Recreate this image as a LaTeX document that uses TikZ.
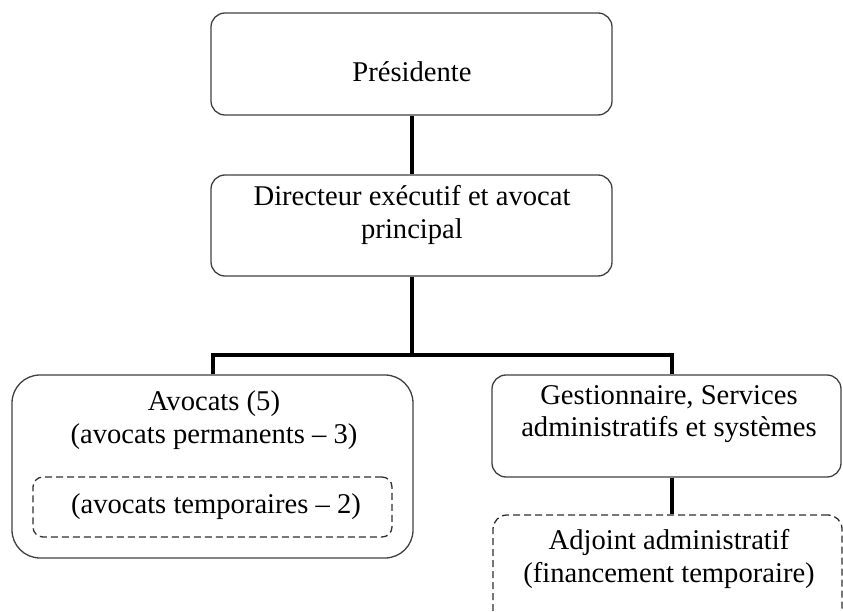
\documentclass[tikz,border=0pt]{standalone}
\usepackage{fontspec}
\setmainfont{Liberation Serif}
\definecolor{boxgray}{HTML}{404040}
\definecolor{dashgray}{HTML}{303030}
\begin{document}
\begin{tikzpicture}[x=1pt,y=-1pt,
  box/.style={draw=boxgray, line width=1.3pt, rounded corners=14pt, inner sep=0pt},
  dbox/.style={draw=dashgray, line width=1.3pt, dash pattern=on 7pt off 4pt, inner sep=0pt},
  conn/.style={draw=black, line width=4pt, line join=miter},
  txt/.style={font=\fontsize{28.6}{32.5}\selectfont, align=center, inner sep=0pt}]
\useasboundingbox (0,0) rectangle (843,612);
\clip (0,0) rectangle (843,612);
\node[box, minimum width=401pt, minimum height=102pt] (pres) at (411.5,64) {};
\node[box, minimum width=401pt, minimum height=101pt] (dir) at (411.5,225.5) {};
\node[box, rounded corners=28pt, minimum width=401pt, minimum height=183pt] (avo) at (212.5,466.5) {};
\node[dbox, rounded corners=10pt, minimum width=359pt, minimum height=60pt] (tmp) at (212.5,507) {};
\node[box, minimum width=349pt, minimum height=102pt] (gest) at (666.5,426) {};
\node[dbox, rounded corners=14pt, minimum width=349pt, minimum height=165pt] (adj) at (667.5,597.5) {};
\coordinate (bar) at (411.5,355);
\coordinate (gx) at (672,0);
\draw[conn] (pres.south) -- (dir.north);
\draw[conn] (dir.south) -- (bar);
\draw[conn] (avo.north) |- (bar) -| (gest.north -| gx);
\draw[conn] (gest.south -| gx) -- (adj.north -| gx);
\node[txt] (tpres) at (412,72) {Présidente};
\node[txt] (tdir) at (412,215) {Directeur exécutif et avocat\\principal};
\node[txt] (tavo) at (214,420) {Avocats (5)\\(avocats permanents – 3)};
\node[txt] (ttmp) at (216,507) {(avocats temporaires – 2)};
\node[txt] (tgest) at (669,414) {Gestionnaire, Services\\administratifs et systèmes};
\node[txt] (tadj) at (669,559) {Adjoint administratif\\(financement temporaire)};
\end{tikzpicture}
\end{document}
